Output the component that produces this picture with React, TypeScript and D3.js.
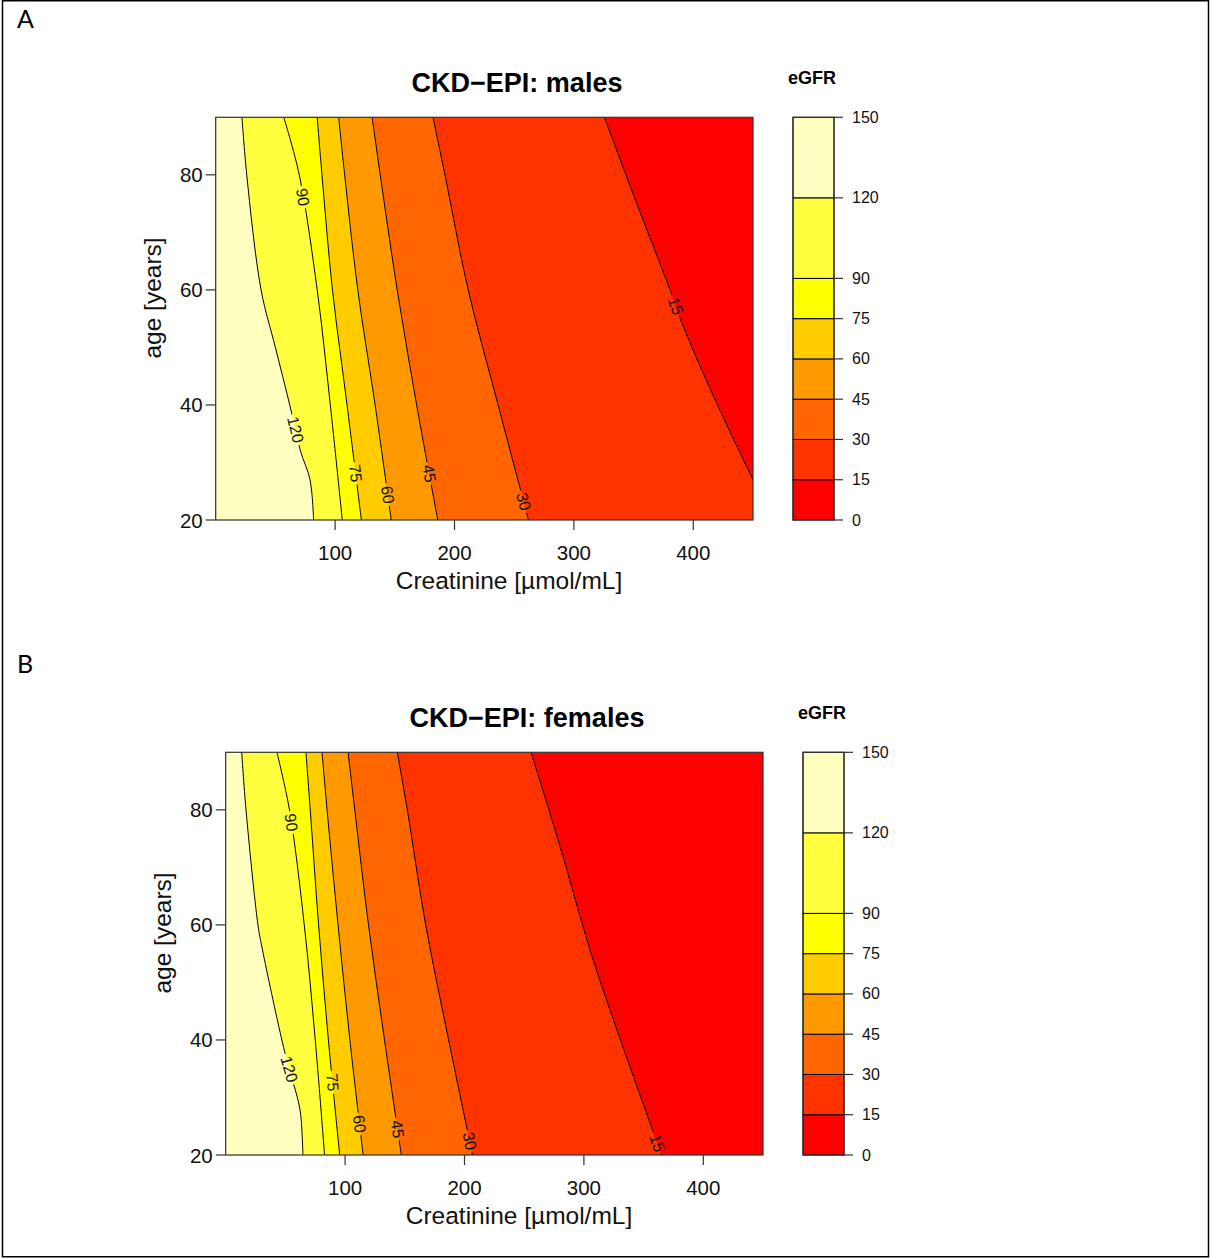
import React from "react";
import * as d3 from "d3";

type Pt = [number, number];

// eGFR class boundaries and the heat palette for each band (low -> high)
const LEVELS = [0, 15, 30, 45, 60, 75, 90, 120, 150];
const BAND_COLORS = ["#FF0000", "#FF3300", "#FF6600", "#FF9900", "#FFCC00", "#FFFF00", "#FFFF40", "#FFFFBF"];
const CREATININE_TICKS = [100, 200, 300, 400];
const AGE_TICKS = [20, 40, 60, 80];
const CREATININE_RANGE: Pt = [0, 450];
const AGE_RANGE: Pt = [20, 90];

// Males: iso-eGFR lines as [creatinine, age], running from age 90 downwards
const males15: Pt[] = [[325.5, 90], [354.5, 74], [380.5, 60], [389, 55], [418, 41], [450, 27]];
const males30: Pt[] = [[182, 90], [192, 80], [211.5, 60], [236.5, 40], [262, 20]];
const males45: Pt[] = [[131, 90], [137.8, 80], [152, 60], [168.3, 40], [186, 20]];
const males60: Pt[] = [[103, 90], [108, 80], [119, 60], [133.5, 40], [147, 20]];
const males75: Pt[] = [[85, 90], [89, 80], [97.8, 60], [110, 40], [122, 20]];
const males90: Pt[] = [[57, 90], [70, 80], [85, 60], [96, 40], [106, 20]];
const males120: Pt[] = [[22, 90], [26, 80], [38, 60], [50, 50], [62, 40], [71, 32], [79, 27], [82, 20]];
const malesLabelLevels = [120, 90, 75, 60, 45, 30, 15];
const malesLabelAges = [35.7, 76.1, 28.1, 24.4, 28.1, 23.2, 57.2];

// Females: iso-eGFR lines as [creatinine, age]
const females15: Pt[] = [[255.7, 90], [279.5, 74], [306.1, 55], [331.3, 39.6], [365, 20]];
const females30: Pt[] = [[143.7, 90], [152.1, 80], [167.5, 60], [186.7, 40], [206.7, 20]];
const females45: Pt[] = [[102.5, 90], [108.1, 80], [119.6, 60], [133, 40], [147.1, 20]];
const females60: Pt[] = [[80.7, 90], [84.9, 80], [94.1, 60], [104, 40], [115.1, 20]];
const females75: Pt[] = [[67.2, 90], [70.8, 80], [77.8, 60], [86, 40], [95.5, 20]];
const females90: Pt[] = [[42.9, 90], [53.4, 80], [65.8, 60], [75, 40], [82.8, 20]];
const females120: Pt[] = [[13.4, 90], [17, 80], [27, 60], [30, 56.5], [45.6, 41.3], [53, 35], [60, 30], [62.8, 27], [64.7, 20]];
const femalesLabelLevels = [120, 90, 75, 60, 45, 30, 15];
const femalesLabelAges = [34.9, 77.8, 32.6, 25.4, 24.5, 22.4, 22.1];

const FONT = "'Liberation Sans', Arial, Helvetica, sans-serif";

type Iso = { level: number; pts: Pt[] };

function Panel(props: {
  id: string;
  ox: number;
  oy: number;
  title: string;
  lines: Iso[];
  labelLevels: number[];
  labelAges: number[];
}) {
  const { id, ox, oy, title, lines, labelLevels, labelAges } = props;
  const left = 215.7 + ox;
  const top = 117.3 + oy;
  const width = 537.3;
  const height = 402.7;
  const right = left + width;
  const bottom = top + height;

  const x = d3.scaleLinear().domain(CREATININE_RANGE).range([left, right]);
  const y = d3.scaleLinear().domain(AGE_RANGE).range([bottom, top]);
  const path = d3
    .line<Pt>()
    .x((d) => x(d[0]))
    .y((d) => y(d[1]))
    .curve(d3.curveCatmullRom.alpha(0.5));

  // Each band is painted as everything left of its lower contour, lowest level first
  const fills = lines.map(({ level, pts }) => {
    const end = pts[pts.length - 1];
    const corners: Pt[] = [];
    if (end[1] > AGE_RANGE[0] + 1e-6) corners.push([CREATININE_RANGE[1], AGE_RANGE[0]]);
    corners.push([CREATININE_RANGE[0], AGE_RANGE[0]], [CREATININE_RANGE[0], AGE_RANGE[1]]);
    const d = path(pts) + corners.map((c) => `L${x(c[0])},${y(c[1])}`).join("") + "Z";
    return { level, d, fill: BAND_COLORS[LEVELS.indexOf(level)] };
  });

  // Inline contour labels, placed on their line and turned along it
  const labelSize = 16;
  const labels = labelLevels.map((lv, i) => {
    const age = labelAges[i];
    const pts = (lines.find((l) => l.level === lv) as Iso).pts;
    let k = 0;
    while (k < pts.length - 2 && pts[k + 1][1] > age) k++;
    const a = pts[k];
    const b = pts[k + 1];
    const t = (a[1] - age) / (a[1] - b[1]);
    const cr = a[0] + t * (b[0] - a[0]);
    let ang = (Math.atan2(y(b[1]) - y(a[1]), x(b[0]) - x(a[0])) * 180) / Math.PI;
    if (ang > 90) ang -= 180;
    if (ang < -90) ang += 180;
    const text = String(lv);
    return { key: lv, px: x(cr), py: y(age), ang, text, w: text.length * labelSize * 0.556 + 5 };
  });

  const barLeft = 793 + ox;
  const barWidth = 41;
  const k = d3.scaleLinear().domain([0, 150]).range([bottom, top]);

  return (
    <g>
      <defs>
        <clipPath id={`${id}-clip`}>
          <rect x={left} y={top} width={width} height={height} />
        </clipPath>
        <mask id={`${id}-mask`} maskUnits="userSpaceOnUse" x={0} y={0} width={1210} height={1258}>
          <rect x={0} y={0} width={1210} height={1258} fill="white" />
          {labels.map((l) => (
            <rect
              key={l.key}
              x={-l.w / 2}
              y={-7}
              width={l.w}
              height={14}
              fill="black"
              transform={`translate(${l.px},${l.py}) rotate(${l.ang})`}
            />
          ))}
        </mask>
      </defs>

      <text x={517 + ox} y={92 + oy} textAnchor="middle" fontFamily={FONT} fontWeight="bold" fontSize={27}>
        {title}
      </text>

      <g clipPath={`url(#${id}-clip)`}>
        <rect x={left} y={top} width={width} height={height} fill={BAND_COLORS[0]} />
        {fills.map((f) => (
          <path key={f.level} d={f.d} fill={f.fill} stroke="none" />
        ))}
        <g mask={`url(#${id}-mask)`}>
          {lines.map((l) => (
            <path key={l.level} d={path(l.pts) || ""} fill="none" stroke="#000" strokeWidth={1} />
          ))}
        </g>
        {labels.map((l) => (
          <text
            key={l.key}
            transform={`translate(${l.px},${l.py}) rotate(${l.ang})`}
            textAnchor="middle"
            dominantBaseline="central"
            fontFamily={FONT}
            fontSize={labelSize}
            fill="#111"
          >
            {l.text}
          </text>
        ))}
      </g>
      <rect x={left} y={top} width={width} height={height} fill="none" stroke="#333" strokeWidth={1.2} />

      {/* x axis */}
      {CREATININE_TICKS.map((v) => (
        <g key={v}>
          <line x1={x(v)} x2={x(v)} y1={bottom} y2={bottom + 10} stroke="#333" strokeWidth={1.2} />
          <text x={x(v)} y={bottom + 40} textAnchor="middle" fontFamily={FONT} fontSize={20.5} fill="#111">
            {v}
          </text>
        </g>
      ))}
      <text x={509 + ox} y={589 + oy} textAnchor="middle" fontFamily={FONT} fontSize={24.5} fill="#111">
        Creatinine [µmol/mL]
      </text>

      {/* y axis */}
      {AGE_TICKS.map((v) => (
        <g key={v}>
          <line x1={left - 10} x2={left} y1={y(v)} y2={y(v)} stroke="#333" strokeWidth={1.2} />
          <text
            x={left - 13}
            y={y(v)}
            textAnchor="end"
            dominantBaseline="central"
            fontFamily={FONT}
            fontSize={20.5}
            fill="#111"
          >
            {v}
          </text>
        </g>
      ))}
      <text
        transform={`translate(${161 + ox},${298 + oy}) rotate(-90)`}
        textAnchor="middle"
        fontFamily={FONT}
        fontSize={24.5}
        fill="#111"
      >
        age [years]
      </text>

      {/* colour key */}
      <text x={812 + ox} y={84 + oy} textAnchor="middle" fontFamily={FONT} fontWeight="bold" fontSize={18}>
        eGFR
      </text>
      {BAND_COLORS.map((c, i) => (
        <rect
          key={c}
          x={barLeft}
          y={k(LEVELS[i + 1])}
          width={barWidth}
          height={k(LEVELS[i]) - k(LEVELS[i + 1])}
          fill={c}
          stroke="#000"
          strokeWidth={1}
        />
      ))}
      <rect x={barLeft} y={top} width={barWidth} height={height} fill="none" stroke="#333" strokeWidth={1.2} />
      {LEVELS.map((v) => (
        <g key={v}>
          <line x1={barLeft + barWidth} x2={barLeft + barWidth + 9} y1={k(v)} y2={k(v)} stroke="#333" strokeWidth={1.2} />
          <text
            x={barLeft + barWidth + 18}
            y={k(v)}
            dominantBaseline="central"
            fontFamily={FONT}
            fontSize={16}
            fill="#111"
          >
            {v}
          </text>
        </g>
      ))}
    </g>
  );
}

export default function App() {
  const malesLines: Iso[] = [
    { level: 15, pts: males15 },
    { level: 30, pts: males30 },
    { level: 45, pts: males45 },
    { level: 60, pts: males60 },
    { level: 75, pts: males75 },
    { level: 90, pts: males90 },
    { level: 120, pts: males120 },
  ];
  const femalesLines: Iso[] = [
    { level: 15, pts: females15 },
    { level: 30, pts: females30 },
    { level: 45, pts: females45 },
    { level: 60, pts: females60 },
    { level: 75, pts: females75 },
    { level: 90, pts: females90 },
    { level: 120, pts: females120 },
  ];

  return (
    <svg
      width={1210}
      height={1258}
      viewBox="0 0 1210 1258"
      style={{ position: "absolute", left: 0, top: 0, background: "#fff" }}
    >
      <rect x={0} y={0} width={1210} height={1258} fill="#fff" />
      <rect x={2.5} y={0.75} width={1206} height={1256} fill="none" stroke="#000" strokeWidth={1.5} />

      <text x={17} y={28} fontFamily="Lato, 'Open Sans', sans-serif" fontSize={25} fill="#000">
        A
      </text>
      <text x={17} y={673} fontFamily="Lato, 'Open Sans', sans-serif" fontSize={25} fill="#000">
        B
      </text>

      <Panel
        id="males"
        ox={0}
        oy={0}
        title="CKD−EPI: males"
        lines={malesLines}
        labelLevels={malesLabelLevels}
        labelAges={malesLabelAges}
      />
      <Panel
        id="females"
        ox={10}
        oy={635}
        title="CKD−EPI: females"
        lines={femalesLines}
        labelLevels={femalesLabelLevels}
        labelAges={femalesLabelAges}
      />
    </svg>
  );
}
